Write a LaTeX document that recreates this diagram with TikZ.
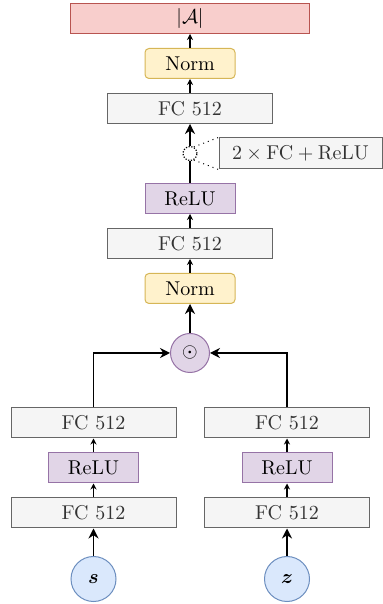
\documentclass[tikz,border=0pt]{standalone}
\usepackage{amsmath,bm}
\usetikzlibrary{arrows.meta}
\definecolor{fcfill}{HTML}{F5F5F5}
\definecolor{fcline}{HTML}{666666}
\definecolor{fctext}{HTML}{333333}
\definecolor{relufill}{HTML}{E1D5E7}
\definecolor{reluline}{HTML}{9673A6}
\definecolor{normfill}{HTML}{FFF2CC}
\definecolor{normline}{HTML}{D6B656}
\definecolor{outfill}{HTML}{F8CECC}
\definecolor{outline}{HTML}{B85450}
\definecolor{varfill}{HTML}{DAE8FC}
\definecolor{varline}{HTML}{6C8EBF}
\begin{document}
\begin{tikzpicture}[node distance=22.5pt,
  fc/.style={draw=fcline,fill=fcfill,text=fctext,line width=0.5pt,minimum width=82.5pt,minimum height=15pt,inner sep=0pt},
  relu/.style={draw=reluline,fill=relufill,line width=0.5pt,minimum width=45pt,minimum height=15pt,inner sep=0pt},
  norm/.style={draw=normline,fill=normfill,line width=0.5pt,rounded corners=2pt,minimum width=45pt,minimum height=15pt,inner sep=0pt},
  outbox/.style={draw=outline,fill=outfill,line width=0.5pt,minimum width=119.5pt,minimum height=15pt,inner sep=0pt},
  var/.style={circle,draw=varline,fill=varfill,line width=0.5pt,minimum size=22.5pt,inner sep=0pt},
  prod/.style={circle,draw=reluline,fill=relufill,line width=0.5pt,minimum size=19.5pt,inner sep=0pt},
  dotc/.style={circle,draw,dash pattern=on 0.6pt off 0.8pt,line width=0.6pt,minimum size=7pt,inner sep=0pt},
  sm/.style={-{Stealth[length=3pt,width=3pt]},line width=0.6pt},
  bg/.style={-{Stealth[length=5pt,width=5pt]},line width=0.6pt}]
\useasboundingbox (0,0) rectangle (191.5pt,302pt);
\node[var](S) at (46.75pt,12.5pt){$\bm{s}$};
\node[fc,above of=S,yshift=10.5pt](S1){FC 512};
\node[relu,above of=S1](S2){ReLU};
\node[fc,above of=S2](S3){FC 512};
\node[var](Z) at (143.5pt,12.5pt){$\bm{z}$};
\node[fc,above of=Z,yshift=10.5pt](Z1){FC 512};
\node[relu,above of=Z1](Z2){ReLU};
\node[fc,above of=Z2](Z3){FC 512};
\node[prod](P) at (95pt,125.5pt){$\odot$};
\node[norm,above of=P,yshift=9.75pt](N1){Norm};
\node[fc,above of=N1](F1){FC 512};
\node[relu,above of=F1](R1){ReLU};
\node[dotc,above of=R1](D){};
\node[fc,above of=D](F2){FC 512};
\node[norm,above of=F2](N2){Norm};
\node[outbox,above of=N2](A){$|\mathcal{A}|$};
\node[fc,minimum width=81.5pt,minimum height=15.5pt,right of=D,xshift=32.75pt](L){$2\times\mathrm{FC}+\mathrm{ReLU}$};
\draw[bg](S)--(S1);
\draw[sm](S1)--(S2);
\draw[sm](S2)--(S3);
\draw[bg](S3.north)|-(P.west);
\draw[bg](Z)--(Z1);
\draw[sm](Z1)--(Z2);
\draw[sm](Z2)--(Z3);
\draw[bg](Z3.north)|-(P.east);
\draw[bg](P)--(N1);
\draw[sm](N1)--(F1);
\draw[sm](F1)--(R1);
\draw[line width=0.6pt](R1)--(D);
\draw[bg](D)--(F2);
\draw[dotted,line width=0.5pt](D.60)--(L.north west);
\draw[dotted,line width=0.5pt](D.-60)--(L.south west);
\draw[sm](F2)--(N2);
\draw[sm](N2)--(A);
\end{tikzpicture}
\end{document}
